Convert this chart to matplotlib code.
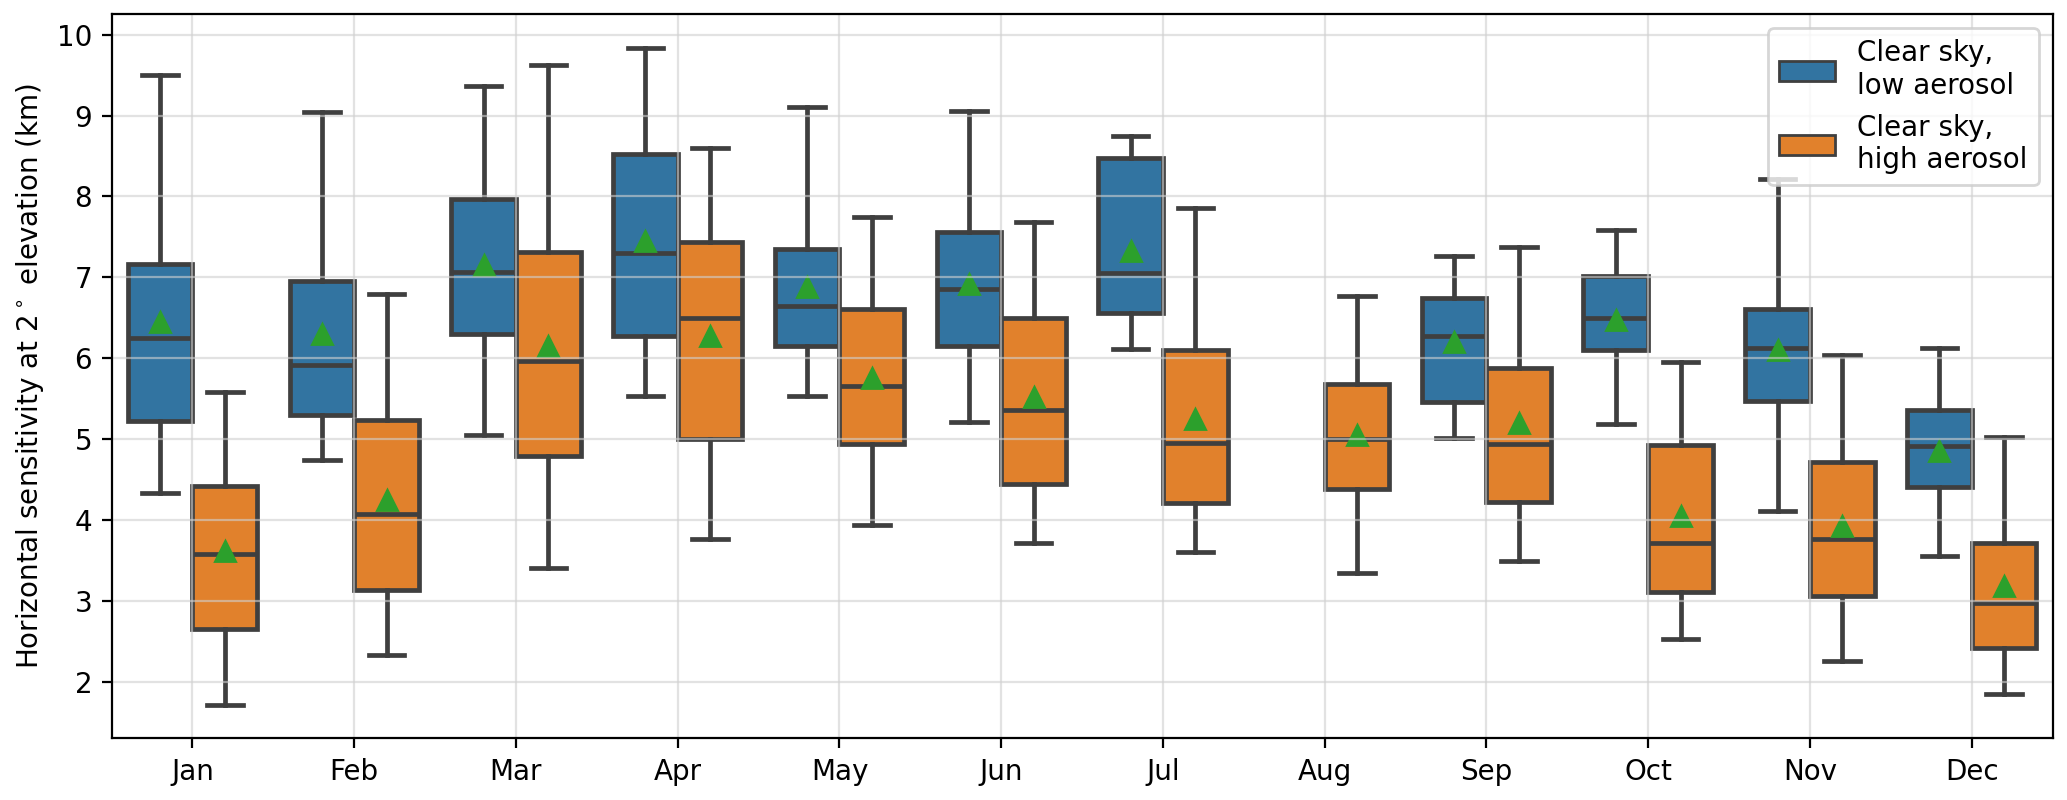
import numpy as np
import matplotlib.pyplot as plt
from matplotlib.patches import Patch

months = ['Jan', 'Feb', 'Mar', 'Apr', 'May', 'Jun', 'Jul', 'Aug', 'Sep', 'Oct', 'Nov', 'Dec']
series_labels = ['Clear sky,\nlow aerosol', 'Clear sky,\nhigh aerosol']

# box statistics per month (None = no data); values in km
low_whislo = [4.33, 4.74, 5.05, 5.53, 5.53, 5.21, 6.11, None, 5.01, 5.19, 4.11, 3.56]
low_q1 = [5.22, 5.30, 6.30, 6.27, 6.15, 6.15, 6.56, None, 5.46, 6.10, 5.47, 4.41]
low_med = [6.25, 5.92, 7.06, 7.30, 6.64, 6.85, 7.05, None, 6.28, 6.50, 6.13, 4.92]
low_q3 = [7.17, 6.96, 7.97, 8.53, 7.35, 7.56, 8.48, None, 6.75, 7.02, 6.61, 5.36]
low_whishi = [9.50, 9.04, 9.37, 9.84, 9.11, 9.06, 8.75, None, 7.26, 7.58, 8.22, 6.12]
low_mean = [6.45, 6.30, 7.15, 7.45, 6.88, 6.92, 7.33, None, 6.20, 6.47, 6.10, 4.85]

high_whislo = [1.71, 2.33, 3.41, 3.76, 3.94, 3.71, 3.60, 3.35, 3.49, 2.53, 2.26, 1.85]
high_q1 = [2.65, 3.13, 4.79, 5.00, 4.94, 4.45, 4.21, 4.38, 4.22, 3.11, 3.06, 2.42]
high_med = [3.58, 4.07, 5.97, 6.50, 5.66, 5.36, 4.95, 5.00, 4.94, 3.72, 3.77, 2.97]
high_q3 = [4.42, 5.23, 7.31, 7.44, 6.61, 6.50, 6.10, 5.68, 5.88, 4.93, 4.72, 3.71]
high_whishi = [5.58, 6.79, 9.63, 8.60, 7.74, 7.68, 7.86, 6.77, 7.38, 5.95, 6.04, 5.02]
high_mean = [3.62, 4.25, 6.15, 6.27, 5.75, 5.52, 5.25, 5.05, 5.20, 4.05, 3.93, 3.18]

colors = ['#3274a1', '#e1812c']
line_col = '#3f3f3f'


def make_stats(whislo, q1, med, q3, whishi, mean):
    stats, pos = [], []
    for i in range(len(months)):
        if med[i] is None:
            continue
        stats.append(dict(whislo=whislo[i], q1=q1[i], med=med[i], q3=q3[i],
                          whishi=whishi[i], mean=mean[i], fliers=[]))
        pos.append(i)
    return stats, np.array(pos, dtype=float)


fig, ax = plt.subplots(figsize=(10.335, 4.0), dpi=200)
fig.subplots_adjust(left=0.054, right=0.993, top=0.982, bottom=0.077)

groups = [
    make_stats(low_whislo, low_q1, low_med, low_q3, low_whishi, low_mean),
    make_stats(high_whislo, high_q1, high_med, high_q3, high_whishi, high_mean),
]
offsets = [-0.2, 0.2]
lw = 1.7
for (stats, pos), off, col in zip(groups, offsets, colors):
    ax.bxp(stats, positions=pos + off, widths=0.4, capwidths=0.22,
           patch_artist=True, showmeans=True, showfliers=False,
           manage_ticks=False, zorder=1,
           boxprops=dict(facecolor=col, edgecolor=line_col, linewidth=lw),
           medianprops=dict(color=line_col, linewidth=lw),
           whiskerprops=dict(color=line_col, linewidth=lw),
           capprops=dict(color=line_col, linewidth=lw),
           meanprops=dict(marker='^', markerfacecolor='#2ca02c',
                          markeredgecolor='#2ca02c', markersize=7.5))

ax.set_xticks(range(len(months)))
ax.set_xticklabels(months, fontsize=10)
ax.tick_params(axis='y', labelsize=10)
ax.set_xlim(-0.5, len(months) - 0.5)
ax.set_ylim(1.3, 10.25)
ax.grid(True, color='#d0d0d0', alpha=0.6, linewidth=0.8)
ax.set_ylabel('Horizontal sensitivity at 2$^\\circ$ elevation (km)', fontsize=10)

handles = [Patch(facecolor=c, edgecolor=line_col, linewidth=1) for c in colors]
ax.legend(handles, series_labels, loc='upper right', fontsize=10)

plt.savefig('out.png', dpi=200)
